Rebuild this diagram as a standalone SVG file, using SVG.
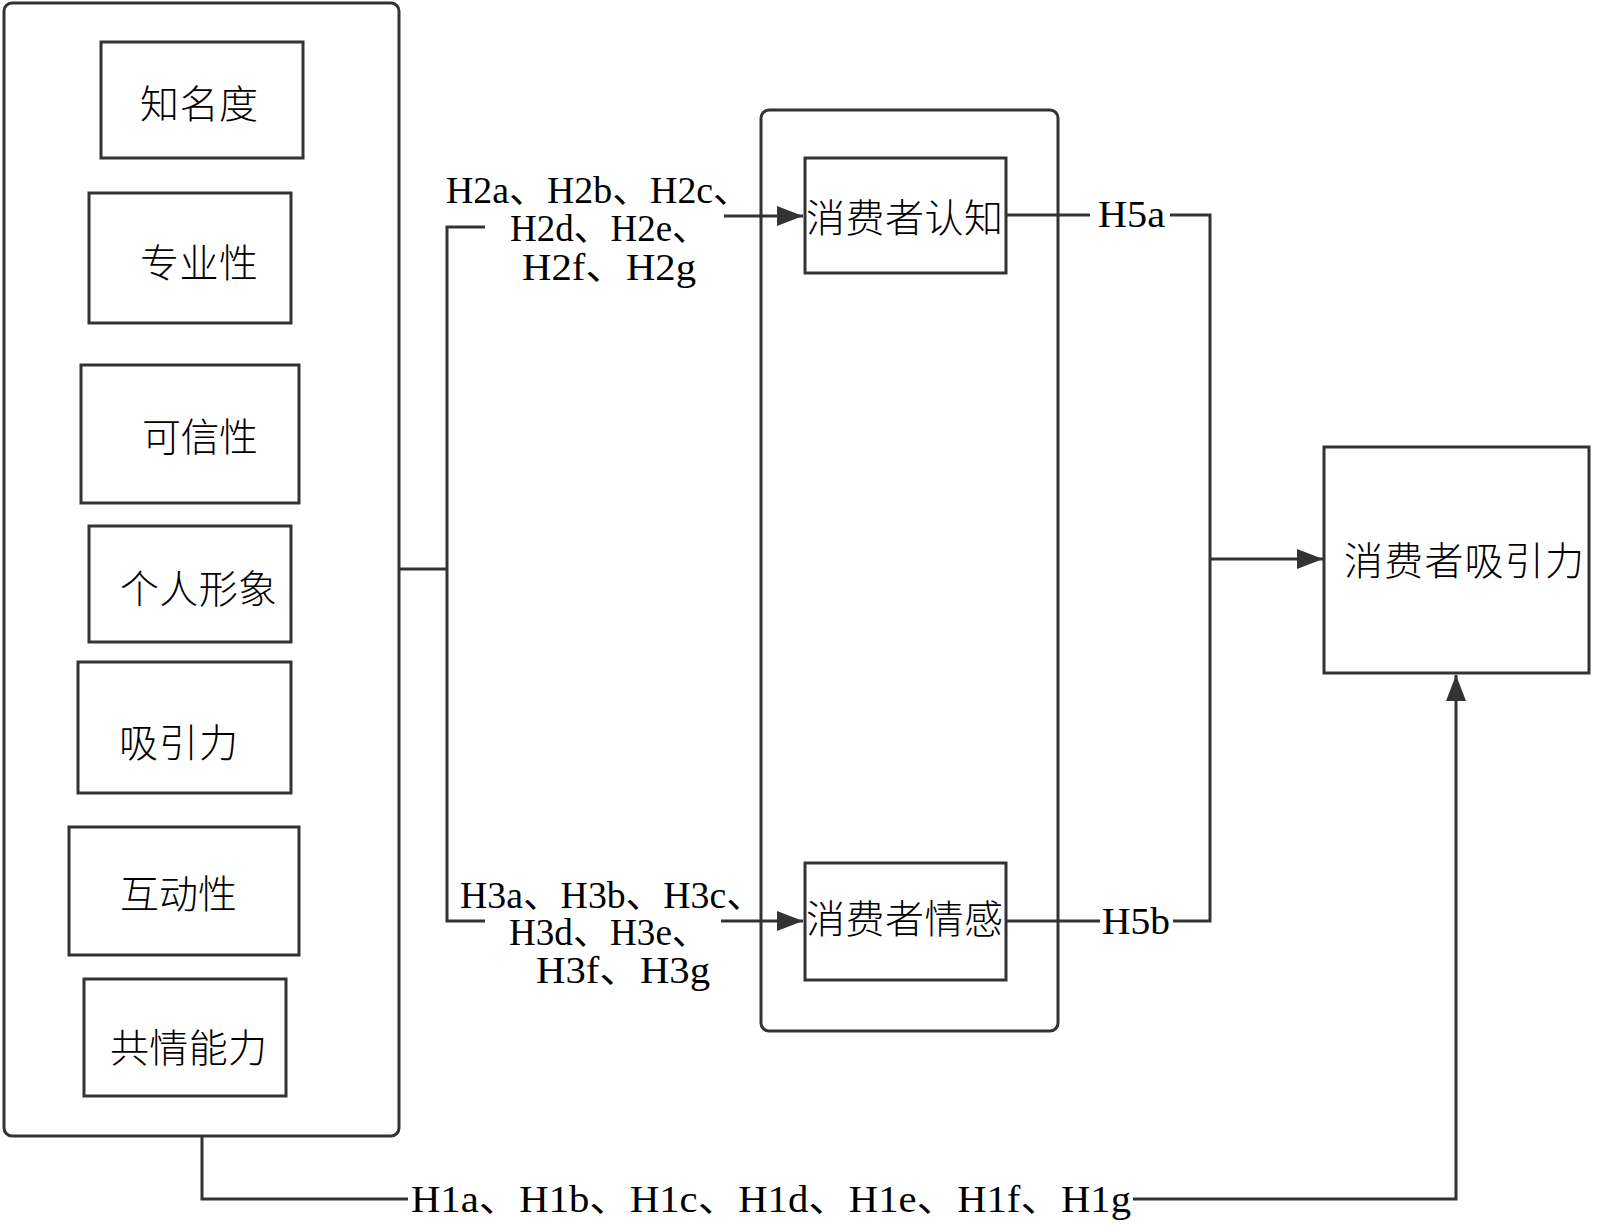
<svg xmlns="http://www.w3.org/2000/svg" width="1600" height="1227" viewBox="0 0 1600 1227">
<defs>
<marker id="arr" markerUnits="userSpaceOnUse" markerWidth="26" markerHeight="20" refX="26" refY="10" orient="auto">
<path d="M0,0 L26,10 L0,20 z" fill="#333"/>
</marker>
<style>
.box{fill:#fff;stroke:#333;stroke-width:3}
.cont{fill:none;stroke:#333;stroke-width:3}
.ln{fill:none;stroke:#333;stroke-width:3}
.cj{font-family:"Noto Sans CJK SC","Noto Sans CJK JP",sans-serif;font-size:39px;font-weight:300;fill:#000}
.lb{font-family:"Liberation Serif","Noto Sans CJK SC",serif;font-size:37px;fill:#000}
</style>
</defs>
<rect width="1600" height="1227" fill="#fff"/>
<g id="connectors">
<path class="ln" d="M399 569 H447"/>
<path class="ln" d="M485 227 H447 V921 H485"/>
<path class="ln" d="M724 216 H803" marker-end="url(#arr)"/>
<path class="ln" d="M721 921 H803" marker-end="url(#arr)"/>
<path class="ln" d="M1006 215 H1090"/>
<path class="ln" d="M1170 215 H1210 V921 H1173"/>
<path class="ln" d="M1006 921 H1100"/>
<path class="ln" d="M1210 559 H1323" marker-end="url(#arr)"/>
<path class="ln" d="M202 1136 V1199 H408"/>
<path class="ln" d="M1133 1199 H1456 V675" marker-end="url(#arr)"/>
<text class="lb" x="446" y="203" textLength="305" lengthAdjust="spacingAndGlyphs">H2a、H2b、H2c、</text>
<text class="lb" x="510" y="241" textLength="199" lengthAdjust="spacingAndGlyphs">H2d、H2e、</text>
<text class="lb" x="522" y="280" textLength="174" lengthAdjust="spacingAndGlyphs">H2f、H2g</text>
<text class="lb" x="460" y="908" textLength="304" lengthAdjust="spacingAndGlyphs">H3a、H3b、H3c、</text>
<text class="lb" x="509" y="945" textLength="200" lengthAdjust="spacingAndGlyphs">H3d、H3e、</text>
<text class="lb" x="536" y="983" textLength="174" lengthAdjust="spacingAndGlyphs">H3f、H3g</text>
<text class="lb" x="1098" y="227" textLength="67" lengthAdjust="spacingAndGlyphs">H5a</text>
<text class="lb" x="1102" y="934" textLength="68" lengthAdjust="spacingAndGlyphs">H5b</text>
<text class="lb" x="411" y="1212" textLength="720" lengthAdjust="spacingAndGlyphs">H1a、H1b、H1c、H1d、H1e、H1f、H1g</text>
</g>
<g id="group-left">
<rect class="cont" x="4" y="3" width="395" height="1133" rx="8"/>
</g>
<g id="n-zhimingdu">
<rect class="box" x="101" y="42" width="202" height="116"/>
<text class="cj" x="140" y="118" textLength="118">知名度</text>
</g>
<g id="n-zhuanyexing">
<rect class="box" x="89" y="193" width="202" height="130"/>
<text class="cj" x="140" y="277" textLength="118">专业性</text>
</g>
<g id="n-kexinxing">
<rect class="box" x="81" y="365" width="218" height="138"/>
<text class="cj" x="142" y="451" textLength="116">可信性</text>
</g>
<g id="n-gerenxingxiang">
<rect class="box" x="89" y="526" width="202" height="116"/>
<text class="cj" x="120" y="603" textLength="157">个人形象</text>
</g>
<g id="n-xiyinli">
<rect class="box" x="78" y="662" width="213" height="131"/>
<text class="cj" x="119" y="757" textLength="119">吸引力</text>
</g>
<g id="n-hudongxing">
<rect class="box" x="69" y="827" width="230" height="128"/>
<text class="cj" x="120" y="908" textLength="117">互动性</text>
</g>
<g id="n-gongqingnengli">
<rect class="box" x="84" y="979" width="202" height="117"/>
<text class="cj" x="110" y="1062" textLength="157">共情能力</text>
</g>
<g id="group-middle">
<rect class="cont" x="761" y="110" width="297" height="921" rx="8"/>
</g>
<g id="n-renzhi">
<rect class="box" x="805" y="158" width="201" height="115"/>
<text class="cj" x="806" y="232" textLength="197">消费者认知</text>
</g>
<g id="n-qinggan">
<rect class="box" x="805" y="863" width="201" height="117"/>
<text class="cj" x="806" y="933" textLength="197">消费者情感</text>
</g>
<g id="n-xiyinli-c">
<rect class="box" x="1324" y="447" width="265" height="226"/>
<text class="cj" x="1344" y="575" textLength="240">消费者吸引力</text>
</g>
</svg>
